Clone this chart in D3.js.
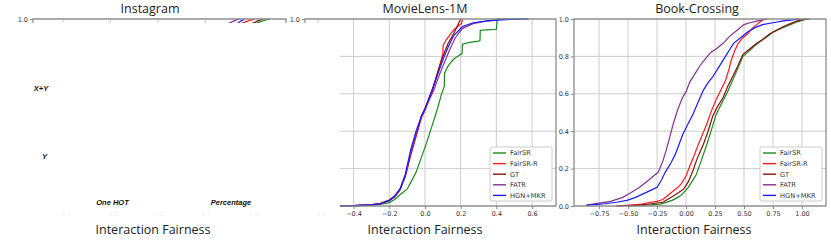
<!DOCTYPE html>
<html>
<head>
<meta charset="utf-8">
<script src="https://cdn.jsdelivr.net/npm/d3@7"></script>
<style>
  body { margin: 0; background: #fff; }
  svg { display: block; }
  .tick text { font-family: "DejaVu Sans", sans-serif; font-size: 6.5px; fill: #333; }
</style>
</head>
<body>
<div id="chart"></div>
<script>
// ---- data ----
const methods = ["FairSR", "FairSR-R", "GT", "FATR", "HGN+MKR"];
const methodColors = ["#1a8a1a", "#ff1a1a", "#8b1010", "#83308f", "#1a1aff"];
const yTicks = [0, 0.2, 0.4, 0.6, 0.8, 1.0];

// Instagram: only the tops of the curves are visible
const igTicks = [-0.4, -0.2, 0.0, 0.2, 0.4];
const igFairSR  = [[0.41, 0.975], [0.44, 0.99], [0.47, 1.0]];
const igFairSRR = [[0.35, 0.975], [0.38, 0.99], [0.406, 1.0]];
const igGT      = [[0.395, 0.975], [0.42, 0.99], [0.44, 1.0]];
const igFATR    = [[0.295, 0.975], [0.32, 0.99], [0.343, 1.0]];
const igHGN     = [[0.333, 0.975], [0.35, 0.99], [0.364, 1.0]];

// MovieLens-1M
const mlTicks = [-0.6, -0.4, -0.2, 0.0, 0.2, 0.4, 0.6];
const mlFairSR = [[-0.6, 0], [-0.4, 0.001], [-0.3, 0.004], [-0.25, 0.008], [-0.2, 0.018], [-0.17, 0.035],
  [-0.14, 0.06], [-0.1, 0.09], [-0.08, 0.125], [-0.05, 0.18], [-0.02, 0.26], [0.01, 0.34], [0.04, 0.43],
  [0.07, 0.52], [0.09, 0.59], [0.108, 0.64], [0.11, 0.71], [0.13, 0.75], [0.16, 0.785], [0.19, 0.805],
  [0.208, 0.815], [0.21, 0.865], [0.25, 0.875], [0.3, 0.882], [0.308, 0.885], [0.31, 0.94], [0.35, 0.942],
  [0.4, 0.945], [0.405, 1.0], [0.58, 1.0]];
const mlFairSRR = [[-0.6, 0], [-0.4, 0.002], [-0.3, 0.007], [-0.25, 0.014], [-0.2, 0.032], [-0.17, 0.055],
  [-0.14, 0.09], [-0.11, 0.16], [-0.08, 0.27], [-0.05, 0.37], [-0.02, 0.47], [0.0, 0.51], [0.02, 0.56],
  [0.04, 0.61], [0.07, 0.71], [0.1, 0.81], [0.102, 0.86], [0.12, 0.89], [0.16, 0.94], [0.19, 0.965],
  [0.205, 0.975], [0.21, 1.0]];
const mlGT = [[-0.6, 0], [-0.4, 0.002], [-0.3, 0.006], [-0.25, 0.013], [-0.2, 0.03], [-0.17, 0.052],
  [-0.14, 0.088], [-0.11, 0.16], [-0.08, 0.28], [-0.05, 0.38], [-0.02, 0.48], [0.0, 0.52], [0.02, 0.57],
  [0.04, 0.62], [0.07, 0.71], [0.1, 0.8], [0.13, 0.87], [0.16, 0.92], [0.18, 0.96], [0.2, 1.0]];
const mlFATR = [[-0.6, 0], [-0.4, 0.002], [-0.3, 0.006], [-0.25, 0.012], [-0.2, 0.028], [-0.17, 0.048],
  [-0.14, 0.085], [-0.11, 0.16], [-0.08, 0.28], [-0.05, 0.38], [-0.02, 0.48], [0.0, 0.52], [0.02, 0.56],
  [0.05, 0.62], [0.08, 0.7], [0.11, 0.77], [0.14, 0.84], [0.17, 0.9], [0.21, 0.95], [0.27, 0.975],
  [0.35, 0.99], [0.45, 1.0]];
const mlHGN = [[-0.6, 0], [-0.4, 0.002], [-0.3, 0.006], [-0.25, 0.012], [-0.2, 0.03], [-0.17, 0.05],
  [-0.14, 0.09], [-0.11, 0.17], [-0.08, 0.3], [-0.05, 0.4], [-0.02, 0.48], [0.0, 0.52], [0.02, 0.57],
  [0.04, 0.62], [0.07, 0.7], [0.1, 0.78], [0.13, 0.85], [0.16, 0.91], [0.21, 0.96], [0.27, 0.98],
  [0.35, 0.99], [0.45, 0.997], [0.58, 1.0]];

// Book-Crossing
const bcTicks = [-0.75, -0.5, -0.25, 0.0, 0.25, 0.5, 0.75, 1.0];
const bcFairSR = [[-0.5, 0], [-0.35, 0.004], [-0.22, 0.01], [-0.12, 0.03], [-0.06, 0.05], [-0.03, 0.065],
  [0.02, 0.1], [0.06, 0.14], [0.09, 0.17], [0.13, 0.24], [0.18, 0.33], [0.22, 0.41], [0.26, 0.49],
  [0.3, 0.54], [0.35, 0.6], [0.4, 0.67], [0.45, 0.74], [0.49, 0.8], [0.53, 0.82], [0.58, 0.85],
  [0.64, 0.88], [0.7, 0.905], [0.75, 0.93], [0.82, 0.95], [0.9, 0.97], [0.96, 0.985], [1.01, 0.995], [1.07, 1.0]];
const bcFairSRR = [[-0.6, 0], [-0.48, 0.005], [-0.38, 0.01], [-0.31, 0.02], [-0.25, 0.025], [-0.2, 0.035],
  [-0.15, 0.06], [-0.11, 0.08], [-0.07, 0.1], [-0.04, 0.12], [0.0, 0.16], [0.03, 0.21], [0.07, 0.27],
  [0.1, 0.32], [0.14, 0.38], [0.18, 0.44], [0.22, 0.51], [0.26, 0.57], [0.3, 0.62], [0.34, 0.67],
  [0.37, 0.73], [0.39, 0.78], [0.42, 0.83], [0.45, 0.87], [0.49, 0.9], [0.53, 0.92], [0.57, 0.95],
  [0.61, 0.97], [0.64, 0.985], [0.67, 1.0]];
const bcGT = [[-0.6, 0], [-0.4, 0.005], [-0.3, 0.012], [-0.2, 0.02], [-0.12, 0.05], [-0.07, 0.07],
  [-0.02, 0.09], [0.02, 0.13], [0.06, 0.19], [0.1, 0.26], [0.15, 0.33], [0.19, 0.4], [0.23, 0.48],
  [0.27, 0.53], [0.32, 0.58], [0.36, 0.64], [0.4, 0.69], [0.44, 0.74], [0.49, 0.81], [0.53, 0.83],
  [0.57, 0.85], [0.61, 0.87], [0.66, 0.89], [0.72, 0.92], [0.78, 0.94], [0.84, 0.96], [0.9, 0.975],
  [0.96, 0.99], [1.04, 1.0]];
const bcFATR = [[-0.86, 0.005], [-0.75, 0.015], [-0.65, 0.025], [-0.55, 0.045], [-0.48, 0.07], [-0.4, 0.1],
  [-0.34, 0.13], [-0.28, 0.16], [-0.24, 0.18], [-0.2, 0.24], [-0.17, 0.3], [-0.14, 0.37], [-0.11, 0.44],
  [-0.08, 0.5], [-0.05, 0.55], [-0.03, 0.58], [0.0, 0.61], [0.03, 0.66], [0.07, 0.7], [0.12, 0.75],
  [0.17, 0.79], [0.21, 0.82], [0.26, 0.84], [0.32, 0.87], [0.38, 0.91], [0.44, 0.94], [0.5, 0.97],
  [0.55, 0.98], [0.62, 0.99], [0.66, 0.995], [0.7, 1.0]];
const bcHGN = [[-0.86, 0.003], [-0.7, 0.012], [-0.6, 0.02], [-0.51, 0.03], [-0.44, 0.045], [-0.37, 0.065],
  [-0.3, 0.085], [-0.25, 0.1], [-0.21, 0.14], [-0.18, 0.18], [-0.13, 0.23], [-0.09, 0.28], [-0.06, 0.33],
  [-0.03, 0.38], [0.01, 0.43], [0.06, 0.49], [0.1, 0.55], [0.15, 0.62], [0.19, 0.66], [0.23, 0.69],
  [0.28, 0.74], [0.32, 0.78], [0.37, 0.83], [0.41, 0.87], [0.47, 0.9], [0.53, 0.93], [0.6, 0.955],
  [0.66, 0.97], [0.75, 0.98], [0.84, 0.99], [0.92, 0.995], [0.98, 1.0]];

// overlay words sitting on the blanked Instagram panel
const overlayWords = ["X+Y", "Y", "One HOT", "Percentage"];

// ---- layout ----
const W = 831, H = 240;
const plotTop = 19, plotBottom = 206;

const svg = d3.select("#chart").append("svg")
  .attr("width", W).attr("height", H);

const y = d3.scaleLinear().domain([0, 1]).range([plotBottom, plotTop]);

const panels = [
  { title: "Instagram", left: 33, right: 286, dom: [-0.526, 0.539], ticks: igTicks, fmt: ".1f",
    series: [igFairSR, igFairSRR, igGT, igFATR, igHGN], cx: 150, lx: 153, legend: null },
  { title: "MovieLens-1M", left: 305, right: 556, dom: [-0.672, 0.734], ticks: mlTicks, fmt: ".1f",
    series: [mlFairSR, mlFairSRR, mlGT, mlFATR, mlHGN], cx: 425, lx: 425, legend: [490, 147] },
  { title: "Book-Crossing", left: 574, right: 826, dom: [-0.966, 1.207], ticks: bcTicks, fmt: ".2f",
    series: [bcFairSR, bcFairSRR, bcGT, bcFATR, bcHGN], cx: 697, lx: 694, legend: [760, 147] }
];

panels.forEach((p, i) => {
  const x = d3.scaleLinear().domain(p.dom).range([p.left, p.right]);
  const g = svg.append("g");

  // grid
  g.append("g").selectAll("line").data(p.ticks).join("line")
    .attr("x1", d => x(d)).attr("x2", d => x(d))
    .attr("y1", plotTop).attr("y2", plotBottom)
    .attr("stroke", "#cdcdcd").attr("stroke-width", 1);
  g.append("g").selectAll("line").data(yTicks).join("line")
    .attr("x1", p.left).attr("x2", p.right)
    .attr("y1", d => y(d)).attr("y2", d => y(d))
    .attr("stroke", "#cdcdcd").attr("stroke-width", 1);

  // curves
  const clipId = "clip" + i;
  svg.append("clipPath").attr("id", clipId).append("rect")
    .attr("x", p.left).attr("y", plotTop - 1).attr("width", p.right - p.left).attr("height", plotBottom - plotTop + 2);
  const line = d3.line().x(d => x(d[0])).y(d => y(d[1]));
  g.append("g").attr("clip-path", "url(#" + clipId + ")")
    .selectAll("path").data(p.series).join("path")
    .attr("d", line)
    .attr("fill", "none")
    .attr("stroke", (d, k) => methodColors[k])
    .attr("stroke-width", 1.2);

  // axes
  const xAxis = d3.axisBottom(x).tickValues(p.ticks).tickFormat(d3.format(p.fmt)).tickSize(3).tickPadding(2);
  g.append("g").attr("transform", "translate(0," + plotBottom + ")").call(xAxis)
    .call(a => a.select(".domain").remove())
    .call(a => a.selectAll(".tick line").attr("stroke", "#888"));
  const yAxis = d3.axisLeft(y).tickValues(yTicks).tickFormat(d3.format(".1f")).tickSize(3).tickPadding(2);
  g.append("g").attr("transform", "translate(" + p.left + ",0)").call(yAxis)
    .call(a => a.select(".domain").remove())
    .call(a => a.selectAll(".tick line").attr("stroke", "#888"));

  // frame
  g.append("rect")
    .attr("x", p.left).attr("y", plotTop)
    .attr("width", p.right - p.left).attr("height", plotBottom - plotTop)
    .attr("fill", "none").attr("stroke", "#8c8c8c").attr("stroke-width", 1.3);

  // title and x label
  svg.append("text").attr("x", p.cx).attr("y", 12.5)
    .attr("text-anchor", "middle")
    .style("font-family", "'Open Sans', sans-serif").style("font-size", "12.5px").style("fill", "#222")
    .text(p.title);
  svg.append("text").attr("x", p.lx).attr("y", 234)
    .attr("text-anchor", "middle")
    .style("font-family", "'Open Sans', sans-serif").style("font-size", "12.5px").style("fill", "#222")
    .text("Interaction Fairness");

  // legend
  if (p.legend) {
    const [lx, ly] = p.legend;
    const lg = svg.append("g").attr("transform", "translate(" + lx + "," + ly + ")");
    lg.append("rect").attr("width", 62).attr("height", 54).attr("rx", 2)
      .attr("fill", "#fff").attr("stroke", "#cccccc").attr("stroke-width", 1);
    const row = lg.selectAll("g").data(methods).join("g")
      .attr("transform", (d, k) => "translate(0," + (6 + k * 10.6) + ")");
    row.append("line").attr("x1", 3).attr("x2", 16)
      .attr("stroke", (d, k) => methodColors[k]).attr("stroke-width", 1.4);
    row.append("text").attr("x", 20).attr("dy", "0.35em")
      .style("font-family", "'DejaVu Sans', sans-serif").style("font-size", "6.7px").style("fill", "#333")
      .text(d => d);
  }
});

// blank out the Instagram plot (and the left edge of MovieLens)
svg.append("rect").attr("x", 0).attr("y", 23).attr("width", 340).attr("height", 187).attr("fill", "#fff");
svg.append("rect").attr("x", 0).attr("y", 210).attr("width", 340).attr("height", 12)
  .attr("fill", "#fff").attr("opacity", 0.93);

// overlay words
const wordPos = [[41, 91], [44.5, 159], [112.5, 205], [231, 205]];
svg.append("g").selectAll("text").data(overlayWords).join("text")
  .attr("x", (d, k) => wordPos[k][0]).attr("y", (d, k) => wordPos[k][1])
  .attr("text-anchor", "middle")
  .style("font-family", "'Liberation Sans', sans-serif").style("font-size", "7.5px")
  .style("font-weight", "bold").style("font-style", "italic").style("fill", "#111")
  .text(d => d);
</script>
</body>
</html>
